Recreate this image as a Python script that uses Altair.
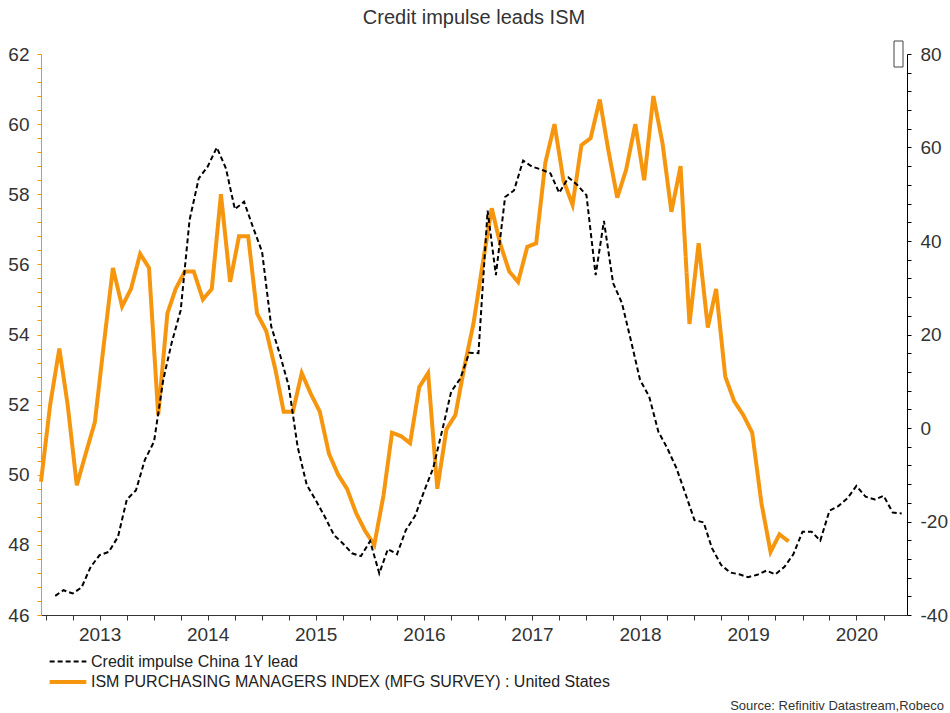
import altair as alt
import pandas as pd

TITLE = "Credit impulse leads ISM"
SOURCE = "Source: Refinitiv Datastream,Robeco"
SERIES = ["Credit impulse China 1Y lead",
          "ISM PURCHASING MANAGERS INDEX (MFG SURVEY) : United States"]

# ISM PMI, monthly Dec 2012 .. Nov 2019 (left axis)
ism_values = [
    49.8, 52.0, 53.6, 52.0, 49.7, 50.6, 51.5, 53.7, 55.9, 54.8, 55.3, 56.3, 55.9,
    51.7, 54.6, 55.3, 55.8, 55.8, 55.0, 55.3, 58.0, 55.5, 56.8, 56.8, 54.6,
    54.1, 53.0, 51.8, 51.8, 52.9, 52.3, 51.8, 50.6, 50.0, 49.6, 48.9, 48.4,
    48.0, 49.4, 51.2, 51.1, 50.9, 52.5, 52.9, 49.6, 51.3, 51.7, 53.1, 54.3,
    56.0, 57.6, 56.6, 55.8, 55.5, 56.5, 56.6, 58.9, 60.0, 58.4, 57.7, 59.4,
    59.6, 60.7, 59.3, 57.9, 58.7, 60.0, 58.4, 60.8, 59.45, 57.5, 58.8, 54.3,
    56.6, 54.2, 55.3, 52.8, 52.1, 51.7, 51.2, 49.2, 47.8, 48.3, 48.1,
]

# Credit impulse China, 1Y lead, monthly Feb 2013 .. Dec 2020 (right axis)
credit_values = [
    -35.9, -34.7, -35.4, -34.1, -29.7, -27.2, -26.5, -23.3, -15.3, -13.3, -6.8,
    -2.9, 10.3, 18.1, 25.2, 44.5, 53.4, 55.9, 60.0, 55.5, 46.8, 48.4, 43.0,
    37.7, 21.7, 16.0, 9.0, -4.0, -12.2, -15.4, -19.0, -22.9, -24.7, -26.8,
    -27.4, -24.2, -31.1, -25.9, -27.0, -21.8, -18.8, -13.6, -8.6, -0.4, 7.8,
    10.6, 16.1, 16.0, 46.5, 32.7, 49.4, 50.8, 57.2, 55.9, 55.3, 54.5, 50.3,
    53.6, 52.0, 49.8, 32.7, 44.3, 31.0, 26.7, 18.5, 10.3, 6.7, -0.8, -4.3,
    -8.6, -14.0, -19.7, -20.2, -25.7, -29.3, -30.9, -31.3, -31.9, -31.4,
    -30.5, -31.3, -29.7, -27.0, -22.2, -22.2, -24.1, -17.7, -16.7, -15.0,
    -12.4, -14.7, -15.3, -14.5, -18.1, -18.3,
]

ism_dates = (pd.date_range("2012-12-01", periods=len(ism_values), freq="MS")
             + pd.Timedelta(days=14)).strftime("%Y-%m-%d").tolist()
credit_dates = pd.date_range("2013-02-01", periods=len(credit_values),
                             freq="MS").strftime("%Y-%m-%d").tolist()

df = pd.concat([
    pd.DataFrame({"date": credit_dates, "value": credit_values, "series": SERIES[0]}),
    pd.DataFrame({"date": ism_dates, "value": ism_values, "series": SERIES[1]}),
], ignore_index=True)

ORANGE = "#F6960E"
TEXT = "#333333"
FONT = "Liberation Sans"

quarter_ticks = [int(pd.Timestamp(d, tz="UTC").timestamp() * 1000)
                 for d in pd.date_range("2013-01-01", "2020-10-01", freq="QS")]
left_ticks = [round(46 + 0.4 * i, 1) for i in range(41)]
right_ticks = [-40 + 4 * i for i in range(31)]

x_enc = alt.X(
    "date:T", title=None,
    scale=alt.Scale(type="utc", nice=False,
                    domain=[alt.DateTime(year=2012, month=12, date=15, utc=True),
                            alt.DateTime(year=2020, month=12, date=19, utc=True)]),
    axis=alt.Axis(values=quarter_ticks, grid=False,
                  labelExpr="utcFormat(datum.value, '%m') == '07' ? utcFormat(datum.value, '%Y') : ''",
                  labelOverlap=False, labelFlush=False, tickSize=5, labelPadding=5,
                  domainColor=TEXT, tickColor=TEXT),
)

color_scale = alt.Scale(domain=SERIES, range=["#000000", ORANGE])
dash_scale = alt.Scale(domain=SERIES, range=[[5, 3], [1, 0]])
width_scale = alt.Scale(domain=SERIES, range=[2, 4])
legend = alt.Legend(title=None, orient="none", legendX=18.5, legendY=599.5,
                    symbolType="M-3,0H3", symbolSize=150, labelOffset=14.5,
                    labelFontSize=16, labelFont=FONT, labelColor="#222222",
                    rowPadding=4, padding=0, labelLimit=0)

common = dict(
    color=alt.Color("series:N", scale=color_scale, legend=legend),
    strokeDash=alt.StrokeDash("series:N", scale=dash_scale, legend=legend),
    strokeWidth=alt.StrokeWidth("series:N", scale=width_scale, legend=legend),
)

ism_line = alt.Chart(df).transform_filter(
    alt.datum.series == SERIES[1]
).mark_line(strokeJoin="miter").encode(
    x=x_enc,
    y=alt.Y("value:Q", title=None,
            scale=alt.Scale(domain=[46, 62], nice=False, zero=False),
            axis=alt.Axis(orient="left", values=left_ticks, grid=False,
                          labelExpr="datum.value % 2 == 0 ? '' + datum.value : ''",
                          labelOverlap=False, tickSize=4, labelPadding=8,
                          domainColor=ORANGE, tickColor=ORANGE)),
    **common,
)

credit_line = alt.Chart(df).transform_filter(
    alt.datum.series == SERIES[0]
).mark_line(strokeJoin="miter").encode(
    x=x_enc,
    y=alt.Y("value:Q", title=None,
            scale=alt.Scale(domain=[-40, 80], nice=False, zero=False),
            axis=alt.Axis(orient="right", values=right_ticks, grid=False,
                          labelExpr="datum.value % 20 == 0 ? '' + datum.value : ''",
                          labelOverlap=False, tickSize=4, labelPadding=9,
                          domainColor="#000000", tickColor="#000000")),
    **common,
)

one = pd.DataFrame({"k": [0]})
source_text = alt.Chart(one).mark_text(
    text=SOURCE, align="right", baseline="alphabetic", fontSize=13,
    font=FONT, color=TEXT,
).encode(x=alt.value(903), y=alt.value(656))

box = alt.Chart(one).mark_rect(filled=False, stroke="#444444", strokeWidth=1).encode(
    x=alt.value(853), x2=alt.value(862), y=alt.value(-13), y2=alt.value(13)
)

chart = alt.layer(ism_line, credit_line, source_text, box).resolve_scale(
    y="independent"
).properties(
    width=866, height=561,
    autosize=alt.AutoSizeParams(type="none"),
    padding={"left": 41, "top": 54, "right": 43, "bottom": 98},
    title=alt.Title(TITLE, fontSize=20, font=FONT, fontWeight="normal",
                    color=TEXT, anchor="middle", offset=13),
).configure_view(
    stroke="transparent"
).configure_axis(
    labelFont=FONT, labelFontSize=19, labelColor=TEXT, domainWidth=1, tickWidth=1
)

chart.save("out.html", embed_options={"renderer": "svg", "actions": False})
